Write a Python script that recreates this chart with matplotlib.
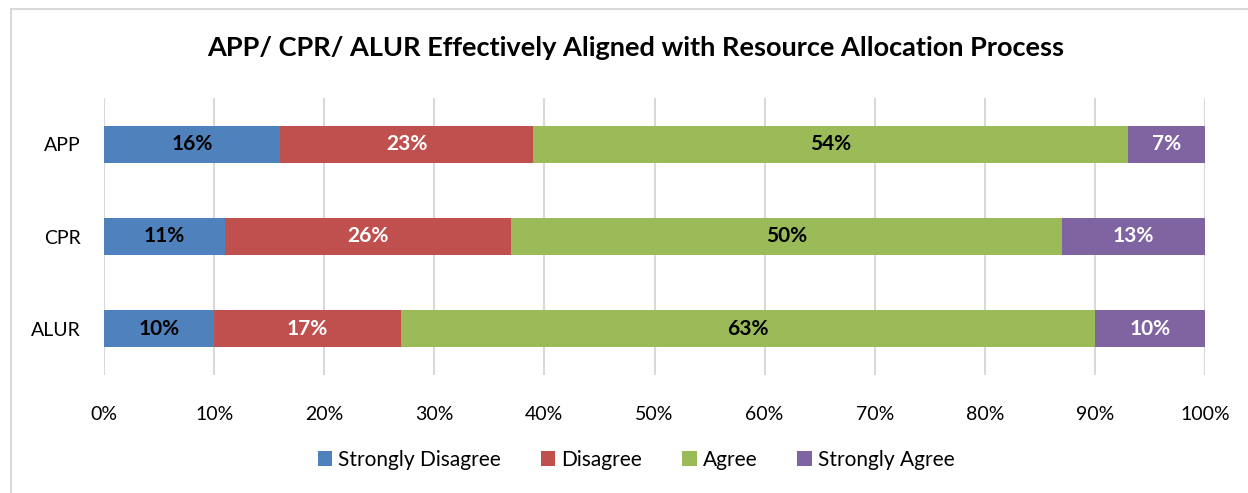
import matplotlib
matplotlib.use("Agg")
import matplotlib.pyplot as plt
from matplotlib.lines import Line2D

plt.rcParams['font.family'] = ['Lato', 'DejaVu Sans']

categories = ["APP", "CPR", "ALUR"]
series_names = ["Strongly Disagree", "Disagree", "Agree", "Strongly Agree"]
strongly_disagree = [16, 11, 10]
disagree = [23, 26, 17]
agree = [54, 50, 63]
strongly_agree = [7, 13, 10]
colors = ["#4F81BD", "#C0504D", "#9BBB59", "#8064A2"]
label_colors = ["black", "white", "black", "white"]
xtick_labels = [f"{v}%" for v in range(0, 101, 10)]

fig = plt.figure(figsize=(12.48, 4.93), dpi=100)
# chart-area border (top and left edges visible)
fig.lines.append(Line2D([11/1248, 1.0], [1-8.5/493, 1-8.5/493], transform=fig.transFigure,
                        color="#D9D9D9", linewidth=1.5))
fig.lines.append(Line2D([11/1248, 11/1248], [0, 1-8.5/493], transform=fig.transFigure,
                        color="#D9D9D9", linewidth=1.5))
ax = fig.add_axes([104/1248, 1-375/493, 1101/1248, 277/493])

ypos = [2, 1, 0]
all_series = [strongly_disagree, disagree, agree, strongly_agree]
left = [0, 0, 0]
for name, vals, col, lc in zip(series_names, all_series, colors, label_colors):
    ax.barh(ypos, vals, left=left, height=0.4, color=col, label=name, zorder=3)
    for y, v, l in zip(ypos, vals, left):
        ax.text(l + v/2, y, f"{v}%", ha="center", va="center", color=lc,
                fontsize=15, fontweight="bold", zorder=4)
    left = [a + b for a, b in zip(left, vals)]

ax.set_xlim(0, 100)
ax.set_ylim(-0.5, 2.5)
ax.set_xticks(range(0, 101, 10))
ax.set_xticklabels(xtick_labels, fontsize=14)
ax.set_yticks(ypos)
ax.set_yticklabels(categories, fontsize=14)
ax.tick_params(axis="both", length=0)
ax.tick_params(axis="x", pad=22)
ax.tick_params(axis="y", pad=17)
ax.grid(axis="x", color="#D9D9D9", linewidth=1.5, zorder=0)
for s in ax.spines.values():
    s.set_visible(False)

fig.text(636/1248, 1-48/493, "APP/ CPR/ ALUR Effectively Aligned with Resource Allocation Process",
         ha="center", va="center", fontsize=19.5, fontweight="bold")

fig.legend(loc="center", bbox_to_anchor=(636/1248, 1-460/493), ncol=4, frameon=False,
           fontsize=15, handlelength=0.7, handleheight=0.7, handletextpad=0.3, columnspacing=1.9)

fig.savefig("out.png", dpi=100)
